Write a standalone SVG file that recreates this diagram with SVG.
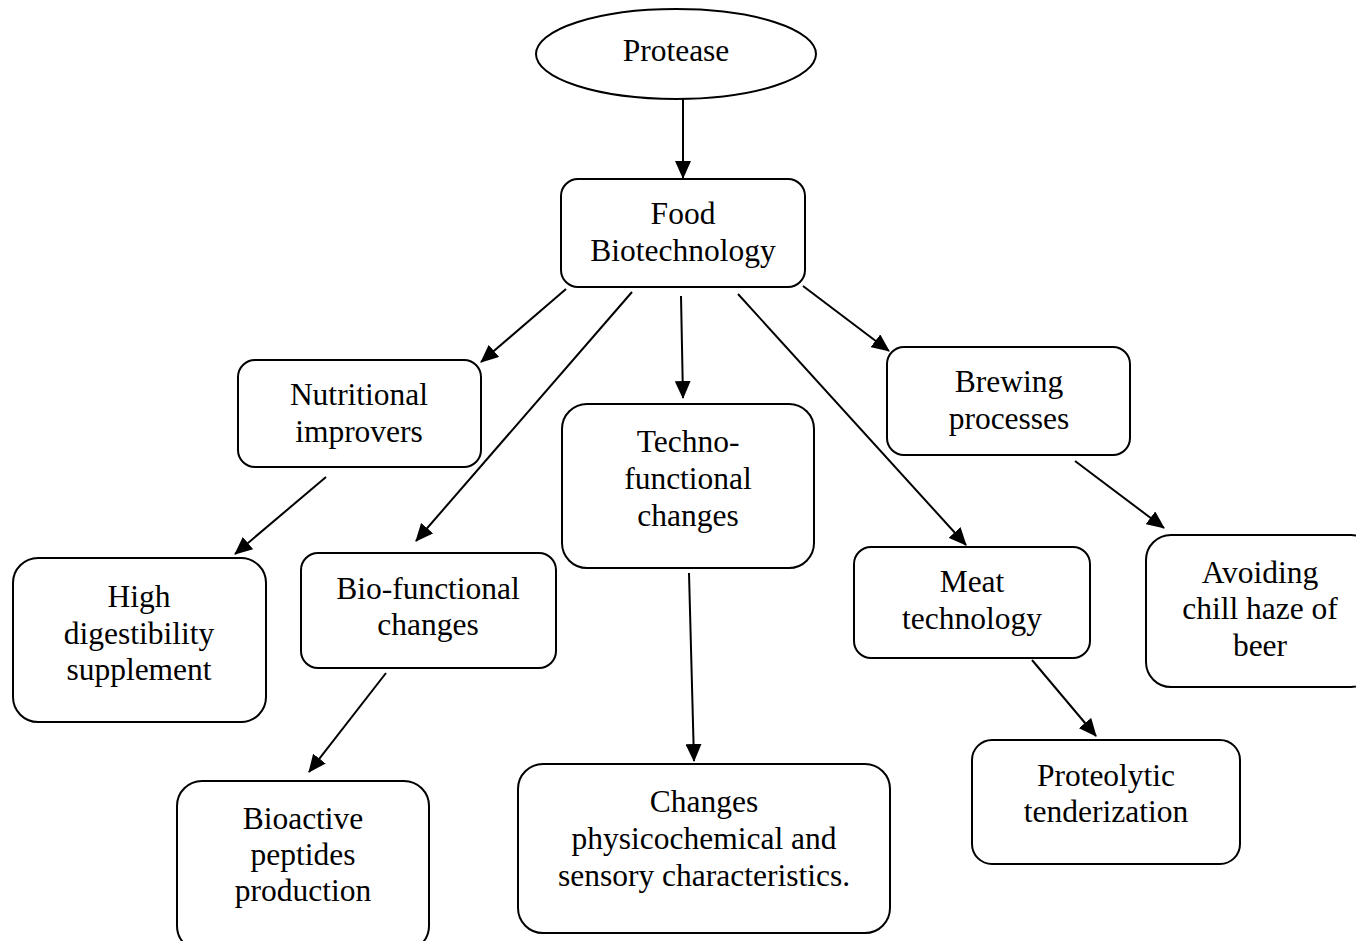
<svg xmlns="http://www.w3.org/2000/svg" width="1356" height="941" viewBox="0 0 1356 941">
<style>
.box{fill:#fff;stroke:#000;stroke-width:2}
text{font-family:'Liberation Serif','Times New Roman',serif;font-size:31.5px;text-anchor:middle;fill:#000}
.c line{stroke:#000;stroke-width:2}
</style>
<defs>
<marker id="ah" markerUnits="userSpaceOnUse" markerWidth="18" markerHeight="16" refX="17" refY="8" orient="auto">
<path d="M0,0 L18,8 L0,16 Z" fill="#000"/>
</marker>
</defs>
<rect width="1356" height="941" fill="#fff"/>
<g class="c">
<line x1="683" y1="99" x2="683" y2="178" marker-end="url(#ah)"/>
<line x1="566" y1="289" x2="481" y2="362" marker-end="url(#ah)"/>
<line x1="632" y1="292" x2="416" y2="541" marker-end="url(#ah)"/>
<line x1="681" y1="296" x2="683" y2="398" marker-end="url(#ah)"/>
<line x1="738" y1="294" x2="966" y2="545" marker-end="url(#ah)"/>
<line x1="803" y1="286" x2="889" y2="351" marker-end="url(#ah)"/>
<line x1="326" y1="477" x2="235" y2="554" marker-end="url(#ah)"/>
<line x1="386" y1="673" x2="309" y2="772" marker-end="url(#ah)"/>
<line x1="689" y1="573" x2="694" y2="761" marker-end="url(#ah)"/>
<line x1="1032" y1="660" x2="1096" y2="736" marker-end="url(#ah)"/>
<line x1="1075" y1="461" x2="1164" y2="528" marker-end="url(#ah)"/>
</g>
<g id="protease"><ellipse class="box" cx="676" cy="54" rx="140" ry="45"/><text x="676" y="61">Protease</text></g>
<g id="food"><rect class="box" x="561" y="179" width="244" height="108" rx="17"/><text x="683" y="224">Food</text><text x="683" y="261">Biotechnology</text></g>
<g id="nutritional"><rect class="box" x="238" y="360" width="243" height="107" rx="17"/><text x="359" y="405">Nutritional</text><text x="359" y="442">improvers</text></g>
<g id="high"><rect class="box" x="13" y="558" width="253" height="164" rx="25"/><text x="139" y="607">High</text><text x="139" y="644">digestibility</text><text x="139" y="680">supplement</text></g>
<g id="biofunc"><rect class="box" x="301" y="553" width="255" height="115" rx="17"/><text x="428" y="599">Bio-functional</text><text x="428" y="635">changes</text></g>
<g id="bioactive"><rect class="box" x="177" y="781" width="252" height="170" rx="25"/><text x="303" y="829">Bioactive</text><text x="303" y="865">peptides</text><text x="303" y="901">production</text></g>
<g id="techno"><rect class="box" x="562" y="404" width="252" height="164" rx="25"/><text x="688" y="452">Techno-</text><text x="688" y="489">functional</text><text x="688" y="526">changes</text></g>
<g id="changes"><rect class="box" x="518" y="764" width="372" height="169" rx="25"/><text x="704" y="812">Changes</text><text x="704" y="849">physicochemical and</text><text x="704" y="886">sensory characteristics.</text></g>
<g id="meat"><rect class="box" x="854" y="547" width="236" height="111" rx="17"/><text x="972" y="592">Meat</text><text x="972" y="629">technology</text></g>
<g id="proteolytic"><rect class="box" x="972" y="740" width="268" height="124" rx="20"/><text x="1106" y="786">Proteolytic</text><text x="1106" y="822">tenderization</text></g>
<g id="brewing"><rect class="box" x="887" y="347" width="243" height="108" rx="17"/><text x="1009" y="392">Brewing</text><text x="1009" y="429">processes</text></g>
<g id="avoiding"><rect class="box" x="1146" y="535" width="230" height="152" rx="25"/><text x="1260" y="583">Avoiding</text><text x="1260" y="619">chill haze of</text><text x="1260" y="656">beer</text></g>
</svg>
